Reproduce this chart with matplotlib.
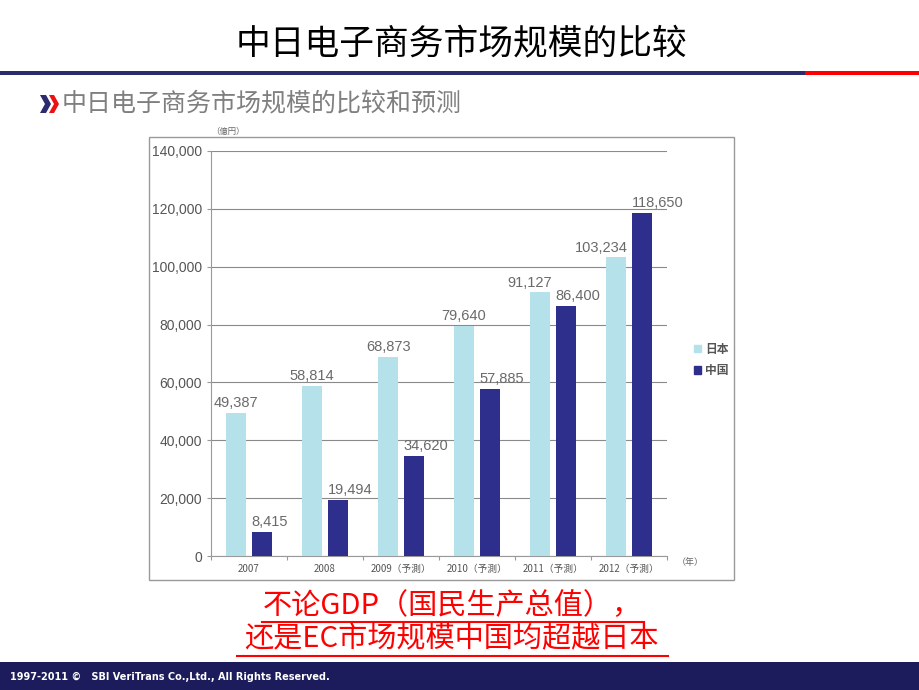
import matplotlib
matplotlib.use('Agg')
import matplotlib.pyplot as plt
from matplotlib.patches import Rectangle, Polygon, Patch
import numpy as np

plt.rcParams['font.family'] = ['Noto Sans CJK SC', 'DejaVu Sans']
num_font = ['Liberation Sans', 'DejaVu Sans']

# data
years = ['2007', '2008', '2009（予測）', '2010（予測）', '2011（予測）', '2012（予測）']
japan = [49387, 58814, 68873, 79640, 91127, 103234]
china = [8415, 19494, 34620, 57885, 86400, 118650]
series_names = ['日本', '中国']
yticks = [0, 20000, 40000, 60000, 80000, 100000, 120000, 140000]

c_japan = '#b4e1ea'
c_china = '#2e2e8c'
navy = '#1c1c5c'

fig = plt.figure(figsize=(9.2, 6.9), dpi=100)

# overlay in pixel coords for slide decorations
bg = fig.add_axes([0, 0, 1, 1])
bg.set_xlim(0, 920)
bg.set_ylim(690, 0)
bg.axis('off')

bg.text(462, 45, '中日电子商务市场规模的比较', fontsize=25, ha='center', va='center', color='black')
bg.add_patch(Rectangle((0, 71), 805, 4, color='#2b2b6e', lw=0))
bg.add_patch(Rectangle((805, 71), 115, 4, color='#ff0000', lw=0))

# chevron marker
bg.add_patch(Polygon([(40, 95), (46, 95), (51, 104), (46, 113), (40, 113), (45, 104)], color='#2b2b6e', lw=0))
bg.add_patch(Polygon([(49, 95), (54, 95), (59, 104), (54, 113), (49, 113), (54, 104)], color='#ee1111', lw=0))
bg.text(62, 104, '中日电子商务市场规模的比较和预测', fontsize=18, ha='left', va='center', color='#7f7f7f')

# chart frame
bg.add_patch(Rectangle((149, 137), 585, 443, fill=False, ec='#999999', lw=1))
bg.text(228, 131, '（億円）', fontsize=6, ha='center', va='center', color='#666666')
bg.text(690, 563, '（年）', fontsize=6.5, ha='center', va='center', color='#666666')

# conclusion text
bg.text(452, 606, '不论GDP（国民生产总值），', fontsize=21, ha='center', va='center', color='#ff0000')
bg.plot([262, 644], [622, 622], color='#ff0000', lw=1.5)
bg.text(452, 639, '还是EC市场规模中国均超越日本', fontsize=21, ha='center', va='center', color='#ff0000')
bg.plot([237, 668], [656, 656], color='#ff0000', lw=1.5)

# footer
bg.add_patch(Rectangle((0, 662), 920, 28, color=navy, lw=0))
bg.text(10, 677, '1997-2011 ©   SBI VeriTrans Co.,Ltd., All Rights Reserved.', fontsize=7,
        fontweight='bold', color='white', ha='left', va='center', family=['DejaVu Sans'])

# bar chart
ax = fig.add_axes([211 / 920, (690 - 556) / 690, (667 - 211) / 920, (556 - 151) / 690])
x = np.arange(len(years))
w = 0.27
off = 0.17
ax.bar(x - off, japan, w, color=c_japan, zorder=3)
ax.bar(x + off, china, w, color=c_china, zorder=3)

ax.set_xlim(-0.5, len(years) - 0.5)
ax.set_ylim(0, 140000)
ax.set_yticks(yticks)
ax.set_yticklabels([f'{v:,}' for v in yticks], fontsize=10, color='#555555', family=num_font)
ax.yaxis.grid(True, color='#8a8a8a', lw=0.8, zorder=0)
ax.axhline(140000, color='#c9a0d0', lw=1.2, zorder=1)

ax.set_xticks(np.arange(len(years) + 1) - 0.5)
ax.set_xticklabels([])
ax.set_xticks(x, minor=True)
ax.set_xticklabels(years, minor=True, fontsize=7, color='#555555')
ax.tick_params(axis='x', which='minor', length=0, pad=6)
ax.tick_params(axis='x', which='major', length=3, color='#999999')
ax.tick_params(axis='y', length=3, color='#999999')

for s in ['top', 'right']:
    ax.spines[s].set_visible(False)
for s in ['left', 'bottom']:
    ax.spines[s].set_color('#999999')

lab_kw = dict(textcoords='offset points', va='bottom', fontsize=10.5, color='#6a6a6a', family=num_font)
for i, v in enumerate(japan):
    if i >= 4:
        ax.annotate(f'{v:,}', (x[i] - off + w / 2, v), xytext=(1, 2), ha='right', **lab_kw)
    else:
        ax.annotate(f'{v:,}', (x[i] - off, v), xytext=(0, 2), ha='center', **lab_kw)
for i, v in enumerate(china):
    ax.annotate(f'{v:,}', (x[i] + off - w / 2, v), xytext=(0, 2), ha='left', **lab_kw)

handles = [Patch(color=c_japan), Patch(color=c_china)]
leg = ax.legend(handles, series_names, loc='center left', bbox_to_anchor=(683 / 920, 1 - 360 / 690),
                bbox_transform=fig.transFigure, frameon=False, fontsize=8.5,
                handlelength=0.6, handleheight=0.6, handletextpad=0.4, labelspacing=0.7)
for t in leg.get_texts():
    t.set_color('#555555')
    t.set_fontweight('bold')

fig.savefig('out.png', dpi=100)
